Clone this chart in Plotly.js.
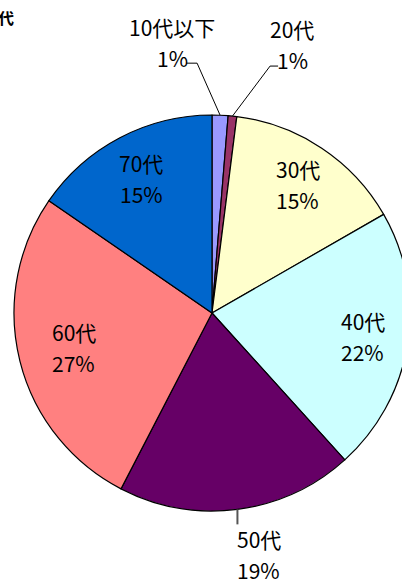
<!DOCTYPE html>
<html>
<head>
<meta charset="utf-8">
<script src="https://cdn.plot.ly/plotly-3.0.1.min.js"></script>
<style>
html,body{margin:0;padding:0;overflow:hidden;background:#fff;width:402px;height:583px;}
#chart{width:430px;height:583px;}
</style>
</head>
<body>
<div id="chart"></div>
<script>
// ---- data ----
const categories = ["10代以下", "20代", "30代", "40代", "50代", "60代", "70代"];
const shares = [1.3, 0.7, 14.7, 21.6, 19.3, 27.0, 15.4];
const colors = ["#9999FF", "#993366", "#FFFFCC", "#CCFFFF", "#660066", "#FF8080", "#0066CC"];
const chartTitle = "年代";

// ---- layout constants ----
const W = 430, H = 583;
const cx = 212, cy = 313, R = 198;
const FONT = '"Noto Sans CJK JP", "Noto Sans", sans-serif';
const FS = 21;
const LINE_GAP = 15.5;
// per-slice label placement: inside -> radial factor; outside -> pixel offset from rim
const labelMode = ["out", "out", "in", "in", "out", "in", "in"];
const labelRadius = [0, 0, 0.78, 0.77, 0, 0.72, 0.77];
const outOffset = [[-48, -73], [60, -72], [0, 0], [0, 0], [21.5, 45], [0, 0], [0, 0]];
const leaderPts = [
  [[-23, -52], [-34, -52]],
  [[37.6, -50], [45.6, -50]],
  null, null,
  [[0, 15]],
  null, null
];

const total = shares.reduce((a, b) => a + b, 0);
const px = (x) => x / W;
const py = (y) => 1 - y / H;

const annotations = [];
const shapes = [];
let cum = 0;
shares.forEach((v, i) => {
  const mid = (cum + v / 2) / total * 2 * Math.PI; // clockwise from 12 o'clock
  cum += v;
  const sx = Math.sin(mid), sy = -Math.cos(mid);
  const rimX = cx + R * sx, rimY = cy + R * sy;
  let tx, ty;
  if (labelMode[i] === "in") {
    tx = cx + R * labelRadius[i] * sx;
    ty = cy + R * labelRadius[i] * sy;
  } else {
    tx = rimX + outOffset[i][0];
    ty = rimY + outOffset[i][1];
    const pts = leaderPts[i];
    let d = "M " + px(rimX) + " " + py(rimY);
    pts.forEach(p => { d += " L " + px(rimX + p[0]) + " " + py(rimY + p[1]); });
    shapes.push({type: "path", xref: "paper", yref: "paper", path: d,
      line: {color: i === 4 ? "#555555" : "#000000", width: i === 4 ? 2 : 1}});
  }
  const pct = Math.round(v / total * 100) + "%";
  annotations.push({xref: "paper", yref: "paper", x: px(tx), y: py(ty - LINE_GAP),
    text: categories[i], showarrow: false, xanchor: "center", yanchor: "middle",
    font: {family: FONT, size: FS, color: "#000"}});
  annotations.push({xref: "paper", yref: "paper", x: px(tx), y: py(ty + LINE_GAP),
    text: pct, showarrow: false, xanchor: "center", yanchor: "middle",
    font: {family: FONT, size: FS, color: "#000"}});
});

annotations.push({xref: "paper", yref: "paper", x: px(16), y: py(17),
  text: "<b>" + chartTitle + "</b>", showarrow: false, xanchor: "right", yanchor: "middle",
  font: {family: FONT, size: 16, color: "#000"}});

const trace = {
  type: "pie",
  labels: categories,
  values: shares,
  sort: false,
  direction: "clockwise",
  rotation: 0,
  marker: {colors: colors, line: {color: "#000000", width: 1.2}},
  textinfo: "none",
  hoverinfo: "none",
  showlegend: false,
  domain: {x: [(cx - R) / W, (cx + R) / W], y: [1 - (cy + R) / H, 1 - (cy - R) / H]}
};

const layout = {
  width: W, height: H,
  margin: {l: 0, r: 0, t: 0, b: 0, pad: 0},
  paper_bgcolor: "#ffffff",
  plot_bgcolor: "#ffffff",
  showlegend: false,
  annotations: annotations,
  shapes: shapes
};

Plotly.newPlot("chart", [trace], layout, {staticPlot: true, displayModeBar: false});
</script>
</body>
</html>
